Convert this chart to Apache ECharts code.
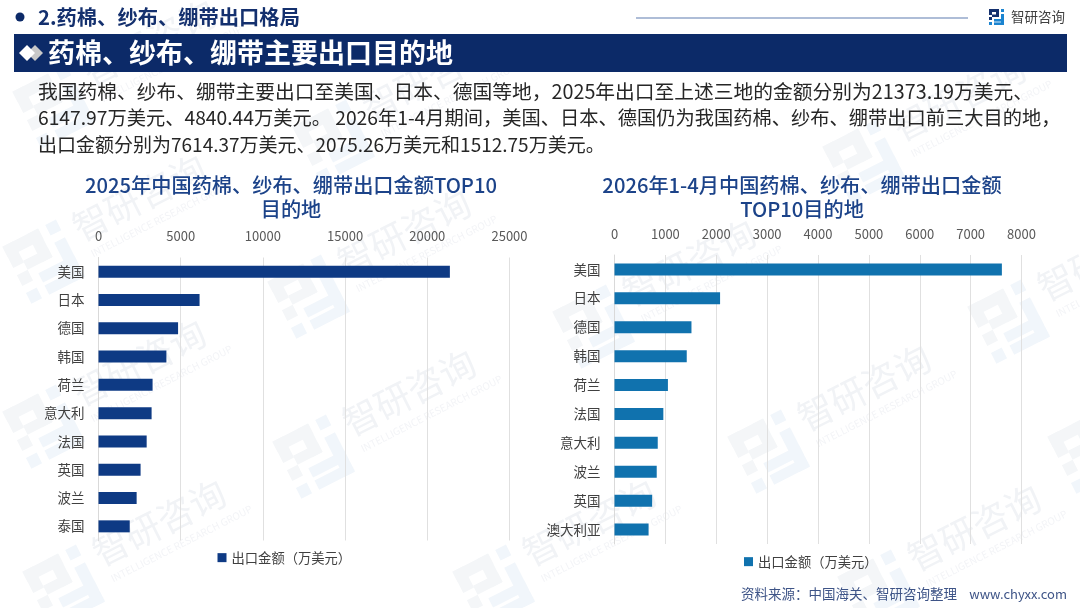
<!DOCTYPE html>
<html>
<head>
<meta charset="utf-8">
<style>html,body{margin:0;padding:0;background:#fff}#c{width:1080px;height:608px}</style>
<script src="https://cdn.jsdelivr.net/npm/echarts@6/dist/echarts.min.js"></script>
</head>
<body>
<div id="c"></div>
<script>
const FONT = '"Noto Sans CJK SC","Noto Sans",sans-serif';

const categories2025 = ['美国','日本','德国','韩国','荷兰','意大利','法国','英国','波兰','泰国'];
const values2025 = [21373.19,6147.97,4840.44,4130,3290,3230,2930,2560,2320,1900];
const categories2026 = ['美国','日本','德国','韩国','荷兰','法国','意大利','波兰','英国','澳大利亚'];
const values2026 = [7614.37,2075.26,1512.75,1420,1050,960,850,830,740,670];
const seriesName = '出口金额（万美元）';
const title2025 = '2025年中国药棉、纱布、绷带出口金额TOP10\n目的地';
const title2026 = '2026年1-4月中国药棉、纱布、绷带出口金额\nTOP10目的地';
const sectionHeading = '2.药棉、纱布、绷带出口格局';
const bannerHeading = '药棉、纱布、绷带主要出口目的地';
const bodyLines = [
  '我国药棉、纱布、绷带主要出口至美国、日本、德国等地，2025年出口至上述三地的金额分别为21373.19万美元、',
  '6147.97万美元、4840.44万美元。 2026年1-4月期间，美国、日本、德国仍为我国药棉、纱布、绷带出口前三大目的地，',
  '出口金额分别为7614.37万美元、2075.26万美元和1512.75万美元。'
];
const brandName = '智研咨询';
const sourceNote = '资料来源：中国海关、智研咨询整理';
const siteName = 'www.chyxx.com';

// Company mark: a squared "P" with a small square and a lower-right stroke.
function markShapes(s, dark, light) {
  const rect = (x, y, w, h, fill) => ({ type:'rect', shape:{x:x*s,y:y*s,width:w*s,height:h*s}, style:{fill}, silent:true });
  return [
    rect(0,0,10,3,dark), rect(0,0,3,6,dark), rect(7,0,3,8,dark), rect(3,5.5,7,2.5,dark),
    rect(0,8,3,3,dark), rect(0,13,3,3,light),
    rect(12,0,3,3,light), rect(12,5,3,11,light), rect(5,10,10,2.6,light), rect(5,13.4,10,2.6,light)
  ];
}

// Repeating faint brand stamp across the page background.
function stamp(x, y) {
  return {
    type:'group', x, y, rotation: 0.47, silent:true, z:0,
    children: [
      { type:'group', x:-32, y:-20, children: markShapes(4, '#f4f6f8', '#f1f6fb') },
      { type:'text', x:40, y:-20, style:{ text:brandName, font:'36px '+FONT, fill:'#f1f3f6' }, silent:true },
      { type:'text', x:44, y:22, style:{ text:'INTELLIGENCE RESEARCH GROUP', font:'10px '+FONT, fill:'#f3f4f7' }, silent:true }
    ]
  };
}
const stampSpots = [[50,95],[330,130],[610,-60],[860,150],[40,250],[305,285],[590,315],[1005,310],[40,415],[310,445],[765,440],[60,575],[490,575],[875,580],[1085,440]];

const band = {
  type:'rect', shape:{x:14,y:34,width:1053,height:38}, style:{fill:'#0c2a68'}, silent:true, z:3
};
const diamond = (cx, fill) => ({
  type:'polygon', shape:{points:[[cx-8,53],[cx,45],[cx+8,53],[cx,61]]}, style:{fill}, silent:true, z:4
});
const plainTicks = v => String(v);

const option = {
  animation:false,
  backgroundColor:'#fff',
  textStyle:{fontFamily:FONT},
  title:[
    { text:title2025, left:286, top:168, textAlign:'center',
      textStyle:{color:'#1c4389',fontSize:20.2,fontWeight:500,lineHeight:24,fontFamily:FONT} },
    { text:title2026, left:797, top:168, textAlign:'center',
      textStyle:{color:'#1c4389',fontSize:20.2,fontWeight:500,lineHeight:24,fontFamily:FONT} }
  ],
  legend:[
    { data:[seriesName], left:212.5, top:546, itemWidth:9, itemHeight:9, itemGap:4,
      icon:'rect', textStyle:{color:'#404040',fontSize:13.3,fontFamily:FONT} },
    { data:[{name:seriesName+' '}], left:739, top:550, itemWidth:9, itemHeight:9, itemGap:4,
      icon:'rect', textStyle:{color:'#404040',fontSize:13.3,fontFamily:FONT} }
  ],
  grid:[
    { left:98.5, top:257.5, width:411, height:283 },
    { left:614.5, top:255, width:407, height:289 }
  ],
  xAxis:[
    { type:'value', gridIndex:0, position:'top', min:0, max:25000, interval:5000,
      axisLine:{show:false}, axisTick:{show:false},
      axisLabel:{color:'#595959',fontSize:13,margin:15,fontFamily:FONT,formatter:plainTicks},
      splitLine:{lineStyle:{color:'#e0e0e0',width:1}} },
    { type:'value', gridIndex:1, position:'top', min:0, max:8000, interval:1000,
      axisLine:{show:false}, axisTick:{show:false},
      axisLabel:{color:'#595959',fontSize:13,margin:14,fontFamily:FONT,formatter:plainTicks},
      splitLine:{lineStyle:{color:'#e0e0e0',width:1}} }
  ],
  yAxis:[
    { type:'category', gridIndex:0, inverse:true, data:categories2025,
      axisLine:{lineStyle:{color:'#d9d9d9'}}, axisTick:{show:false},
      axisLabel:{color:'#404040',fontSize:13.5,margin:14,fontFamily:FONT} },
    { type:'category', gridIndex:1, inverse:true, data:categories2026,
      axisLine:{lineStyle:{color:'#d9d9d9'}}, axisTick:{show:false},
      axisLabel:{color:'#404040',fontSize:13.5,margin:14,fontFamily:FONT} }
  ],
  series:[
    { type:'bar', name:seriesName, xAxisIndex:0, yAxisIndex:0, data:values2025, barWidth:12,
      itemStyle:{color:'#0e3a84'}, z:3 },
    { type:'bar', name:seriesName+' ', xAxisIndex:1, yAxisIndex:1, data:values2026, barWidth:12,
      itemStyle:{color:'#1072ae'}, z:3 }
  ],
  graphic:[
    ...stampSpots.map(p => stamp(p[0], p[1])),
    { type:'circle', shape:{cx:20,cy:17,r:4.5}, style:{fill:'#0c2a68'}, silent:true, z:3 },
    { type:'text', x:38, y:17, style:{text:sectionHeading,font:'bold 20.3px '+FONT,fill:'#14306e',textVerticalAlign:'middle'}, silent:true, z:3 },
    { type:'line', shape:{x1:636,y1:18,x2:968,y2:18}, style:{stroke:'#5f7cb0',lineWidth:1.2}, silent:true, z:3 },
    { type:'group', x:989, y:9, children:markShapes(1, '#14306e', '#1b84d0'), silent:true, z:3 },
    { type:'text', x:1011, y:17, style:{text:brandName,font:'13.5px '+FONT,fill:'#404040',textVerticalAlign:'middle'}, silent:true, z:3 },
    band,
    diamond(35,'#c8c8c8'), diamond(27,'#ffffff'),
    { type:'text', x:48, y:53, style:{text:bannerHeading,font:'bold 27px '+FONT,fill:'#fff',textVerticalAlign:'middle'}, silent:true, z:4 },
    { type:'text', x:38, y:91, style:{text:bodyLines[0],font:'19.75px '+FONT,fill:'#262626',textVerticalAlign:'middle'}, silent:true, z:3 },
    { type:'text', x:38, y:118, style:{text:bodyLines[1],font:'19.25px '+FONT,fill:'#262626',textVerticalAlign:'middle'}, silent:true, z:3 },
    { type:'text', x:38, y:145, style:{text:bodyLines[2],font:'19px '+FONT,fill:'#262626',textVerticalAlign:'middle'}, silent:true, z:3 },
    { type:'text', x:741, y:594, style:{text:sourceNote,font:'13.5px '+FONT,fill:'#3e5487',textVerticalAlign:'middle'}, silent:true, z:3 },
    { type:'text', x:1067, y:594, style:{text:siteName,font:'13px '+FONT,fill:'#3e5487',textVerticalAlign:'middle',textAlign:'right'}, silent:true, z:3 }
  ]
};

const chart = echarts.init(document.getElementById('c'), null, {renderer:'canvas'});
chart.setOption(option);
</script>
</body>
</html>
